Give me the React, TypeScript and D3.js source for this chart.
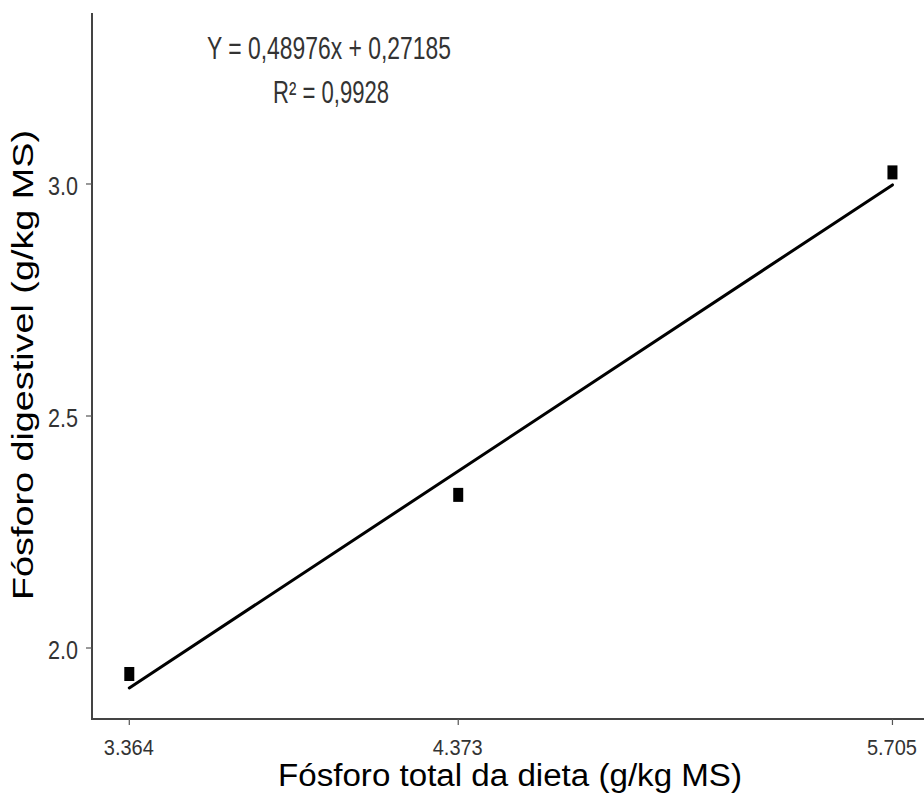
import React from "react";
import * as d3 from "d3";

// Data
const xTicks: number[] = [3.364, 4.373, 5.705];
const xTickLabels: string[] = ["3.364", "4.373", "5.705"];
const yTicks: number[] = [2.0, 2.5, 3.0];
const yTickLabels: string[] = ["2.0", "2.5", "3.0"];
const pointX: number[] = [3.364, 4.373, 5.705];
const pointY: number[] = [1.944, 2.33, 3.025];
const fitX: number[] = [3.364, 5.705];
const fitY: number[] = [1.914, 2.998];
const equationText = "Y = 0,48976x + 0,27185";
const r2Text = "R² = 0,9928";
const xTitle = "Fósforo total da dieta (g/kg MS)";
const yTitle = "Fósforo digestivel (g/kg MS)";

const W = 924;
const H = 806;
const axisX = 92;
const axisY = 719;

export default function App() {
  const x = d3.scaleLinear().domain([3.2496, 5.822]).range([axisX, axisX + (5.822 - 3.2496) * 326]);
  const y = d3.scaleLinear().domain([1.847, 3.3685]).range([axisY, 13]);
  const line = d3
    .line<number>()
    .x((_, i) => x(fitX[i]))
    .y((d) => y(d));
  const font = "'Liberation Sans', Arial, sans-serif";
  const sqW = 10;
  const sqH = 14;
  return (
    <svg
      width={W}
      height={H}
      style={{ position: "absolute", left: 0, top: 0, background: "#fff" }}
      fontFamily={font}
    >
      <rect x={0} y={0} width={W} height={H} fill="#fff" />
      {/* axes */}
      <line x1={axisX} x2={W} y1={axisY} y2={axisY} stroke="#444" strokeWidth={2} />
      <line x1={axisX} x2={axisX} y1={13} y2={axisY + 1} stroke="#444" strokeWidth={2} />
      {yTicks.map((t, i) => (
        <g key={"y" + i}>
          <line x1={axisX - 6} x2={axisX} y1={y(t)} y2={y(t)} stroke="#555" strokeWidth={1.2} />
          <text
            x={78}
            y={y(t) + 11}
            textAnchor="end"
            fontSize={25}
            fill="#333"
            textLength={30}
            lengthAdjust="spacingAndGlyphs"
          >
            {yTickLabels[i]}
          </text>
        </g>
      ))}
      {xTicks.map((t, i) => (
        <g key={"x" + i}>
          <line x1={x(t)} x2={x(t)} y1={axisY} y2={axisY + 6} stroke="#555" strokeWidth={1.2} />
          <text
            x={x(t) - 25.5}
            y={755}
            fontSize={22}
            fill="#333"
            textLength={50}
            lengthAdjust="spacingAndGlyphs"
          >
            {xTickLabels[i]}
          </text>
        </g>
      ))}
      {/* fitted line */}
      <path d={line(fitY) || ""} fill="none" stroke="#000" strokeWidth={3} strokeLinecap="round" />
      {/* points */}
      {pointX.map((px, i) => (
        <rect
          key={"p" + i}
          x={x(px) - sqW / 2}
          y={y(pointY[i]) - sqH / 2}
          width={sqW}
          height={sqH}
          fill="#000"
        />
      ))}
      {/* annotation */}
      <text
        x={207}
        y={59}
        fontSize={31}
        fill="#333"
        textLength={244}
        lengthAdjust="spacingAndGlyphs"
      >
        {equationText}
      </text>
      <text
        x={273}
        y={103}
        fontSize={31}
        fill="#333"
        textLength={116}
        lengthAdjust="spacingAndGlyphs"
      >
        {r2Text}
      </text>
      {/* axis titles */}
      <text
        x={278}
        y={786}
        fontSize={31}
        fill="#000"
        textLength={464}
        lengthAdjust="spacingAndGlyphs"
      >
        {xTitle}
      </text>
      <text
        transform={`translate(33, ${365 + 235}) rotate(-90)`}
        x={0}
        y={0}
        fontSize={30}
        fill="#000"
        textLength={470}
        lengthAdjust="spacingAndGlyphs"
      >
        {yTitle}
      </text>
    </svg>
  );
}
